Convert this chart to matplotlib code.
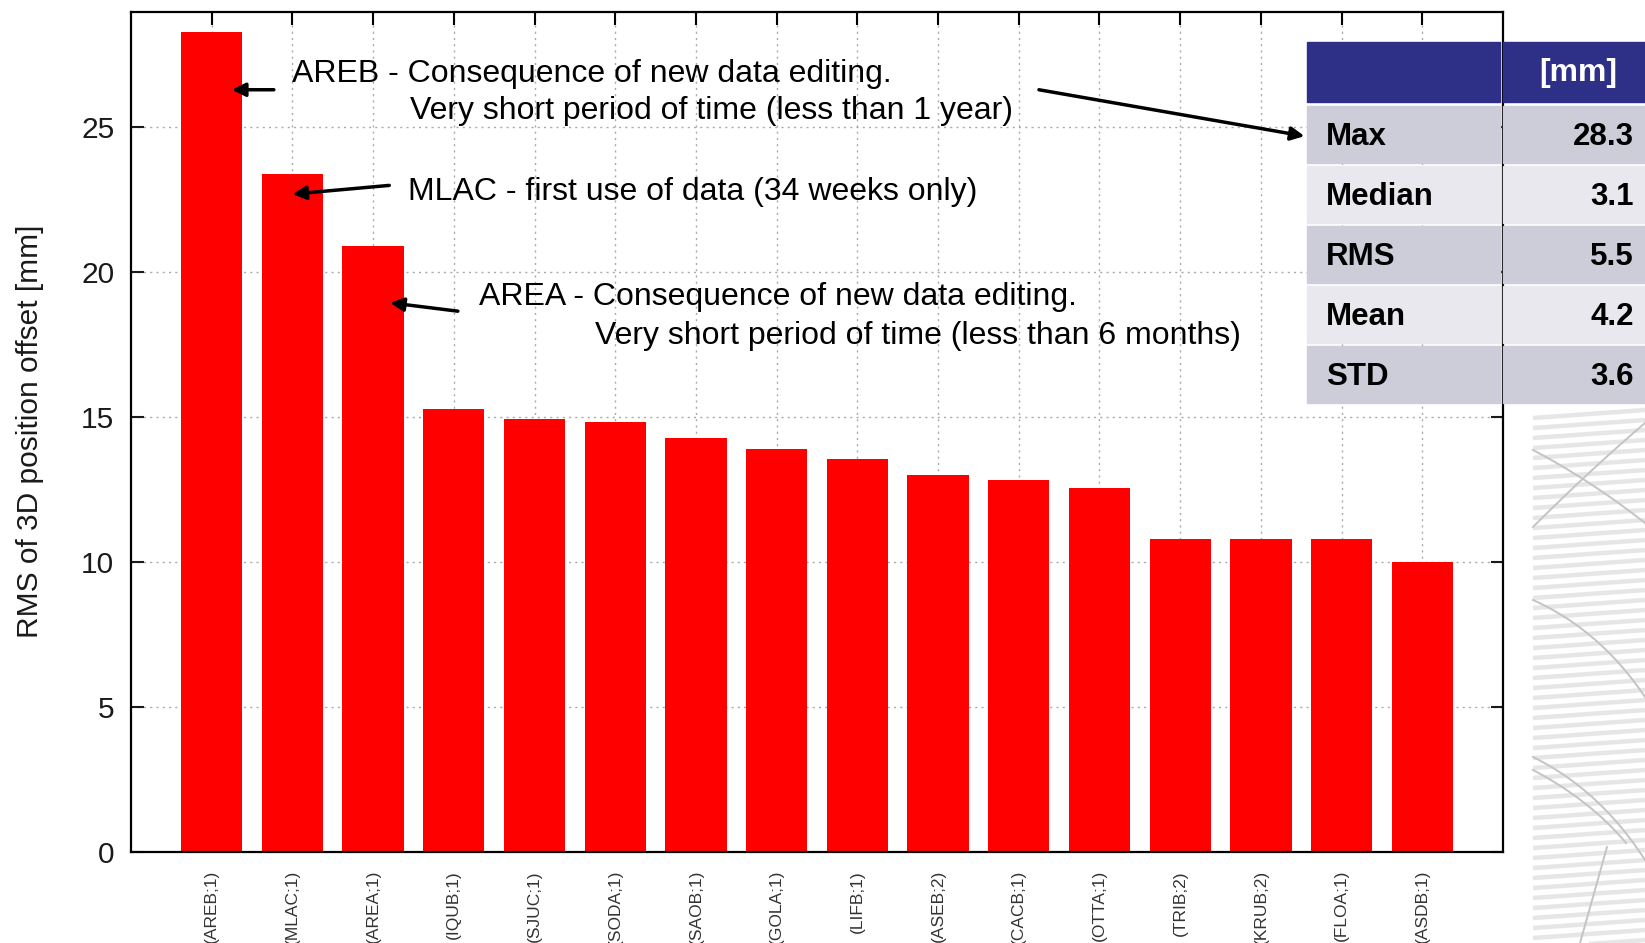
import matplotlib.pyplot as plt
from matplotlib.patches import Rectangle
import numpy as np

plt.rcParams['font.family'] = ['Liberation Sans', 'DejaVu Sans']

# Stations and RMS of 3D position offset [mm]
stations = ['(AREB;1)', '(MLAC;1)', '(AREA;1)', '(IQUB;1)', '(SJUC;1)', '(SODA;1)',
            '(SAOB;1)', '(GOLA;1)', '(LIFB;1)', '(ASEB;2)', '(CACB;1)', '(OTTA;1)',
            '(TRIB;2)', '(KRUB;2)', '(FLOA;1)', '(ASDB;1)']
rms_values = [28.3, 23.4, 20.9, 15.3, 14.95, 14.85, 14.3, 13.9, 13.55, 13.0, 12.85,
              12.55, 10.8, 10.8, 10.8, 10.0]

# Summary table
stat_names = ['Max', 'Median', 'RMS', 'Mean', 'STD']
stat_values = ['28.3', '3.1', '5.5', '4.2', '3.6']
table_unit = '[mm]'

fig = plt.figure(figsize=(16.45, 9.43), dpi=100)

ax = fig.add_axes([131 / 1645, 1 - 852 / 943, (1503 - 131) / 1645, (852 - 11.5) / 943])
x = np.arange(len(stations))
ax.bar(x, rms_values, width=0.76, color='#ff0000', zorder=2)
ax.set_xlim(-1, len(stations))
ax.set_ylim(0, 29)
ax.set_yticks([0, 5, 10, 15, 20, 25])
ax.set_xticks(x)
ax.set_xticklabels(stations, rotation=90, fontsize=12.5, color='#333333', va='top')
ax.tick_params(axis='both', direction='in', length=9, width=1.5, top=True, right=True)
ax.tick_params(axis='y', labelsize=21.5, pad=12, colors='#1a1a1a')
ax.tick_params(axis='x', pad=13)
ax.grid(True, linestyle=(0, (1.5, 3)), color='#aaaaaa', lw=1, zorder=0)
for s in ax.spines.values():
    s.set_linewidth(1.6)
ax.set_ylabel('RMS of 3D position offset [mm]', fontsize=21.5, labelpad=27, color='#1a1a1a')

# annotations
arrow = dict(arrowstyle='-|>', color='black', lw=2.5, mutation_scale=20, shrinkA=0, shrinkB=0)
fs = 23
ax.text(1.0, 26.86, 'AREB - Consequence of new data editing.', fontsize=fs, va='center')
ax.text(2.46, 25.55, 'Very short period of time (less than 1 year)', fontsize=fs, va='center')
ax.annotate('', xy=(0.25, 26.3), xytext=(0.77, 26.3), arrowprops=arrow)
ax.annotate('', xy=(13.54, 24.7), xytext=(10.25, 26.3), arrowprops=arrow, annotation_clip=False)

ax.text(2.43, 22.78, 'MLAC - first use of data (34 weeks only)', fontsize=fs, va='center')
ax.annotate('', xy=(1.0, 22.7), xytext=(2.2, 23.0), arrowprops=arrow)

ax.text(3.31, 19.16, 'AREA - Consequence of new data editing.', fontsize=fs, va='center')
ax.text(4.75, 17.81, 'Very short period of time (less than 6 months)', fontsize=fs, va='center')
ax.annotate('', xy=(2.21, 18.95), xytext=(3.05, 18.66), arrowprops=arrow)

# overlay in figure pixel coordinates: table and slide decoration
tab = fig.add_axes([0, 0, 1, 1], zorder=5)
tab.set_xlim(0, 1645)
tab.set_ylim(943, 0)
tab.axis('off')

# decorative stripes and curves at the right edge
for k in range(54):
    y0 = 418 + k * 10
    tab.plot([1533, 1645], [y0, y0 - 8], color='#e6e6e6', lw=3.2, solid_capstyle='butt')
t = np.linspace(0, 1, 60)
for p0, p1, p2 in [((1533, 450), (1590, 480), (1645, 523)),
                   ((1533, 527), (1590, 470), (1645, 423)),
                   ((1533, 600), (1600, 630), (1645, 697)),
                   ((1533, 757), (1600, 790), (1645, 860)),
                   ((1533, 770), (1590, 800), (1626, 843)),
                   ((1607, 847), (1595, 890), (1580, 943))]:
    bx = (1 - t) ** 2 * p0[0] + 2 * (1 - t) * t * p1[0] + t ** 2 * p2[0]
    by = (1 - t) ** 2 * p0[1] + 2 * (1 - t) * t * p1[1] + t ** 2 * p2[1]
    tab.plot(bx, by, color='#c4c4c4', lw=1.4)

c0, c1, c2 = 1307, 1503, 1650
row_top = 42
row_h = 60
gap = 3
tab.add_patch(Rectangle((c0, row_top), c1 - c0 - gap, row_h, color='#2e3088'))
tab.add_patch(Rectangle((c1, row_top), c2 - c1, row_h, color='#2e3088'))
tab.text(1578, row_top + row_h / 2 + 1, table_unit, color='white', fontsize=23,
         fontweight='bold', ha='center', va='center')
for i, (name, val) in enumerate(zip(stat_names, stat_values)):
    top = row_top + row_h + 4 + i * 60
    col = '#cdcdd9' if i % 2 == 0 else '#e8e8ee'
    tab.add_patch(Rectangle((c0, top), c1 - c0 - gap, 57, color=col))
    tab.add_patch(Rectangle((c1, top), c2 - c1, 57, color=col))
    tab.text(1326, top + 31, name, fontsize=22.5, fontweight='bold', va='center', ha='left')
    tab.text(1634, top + 31, val, fontsize=22.5, fontweight='bold', va='center', ha='right')

plt.savefig('out.png', dpi=100)
